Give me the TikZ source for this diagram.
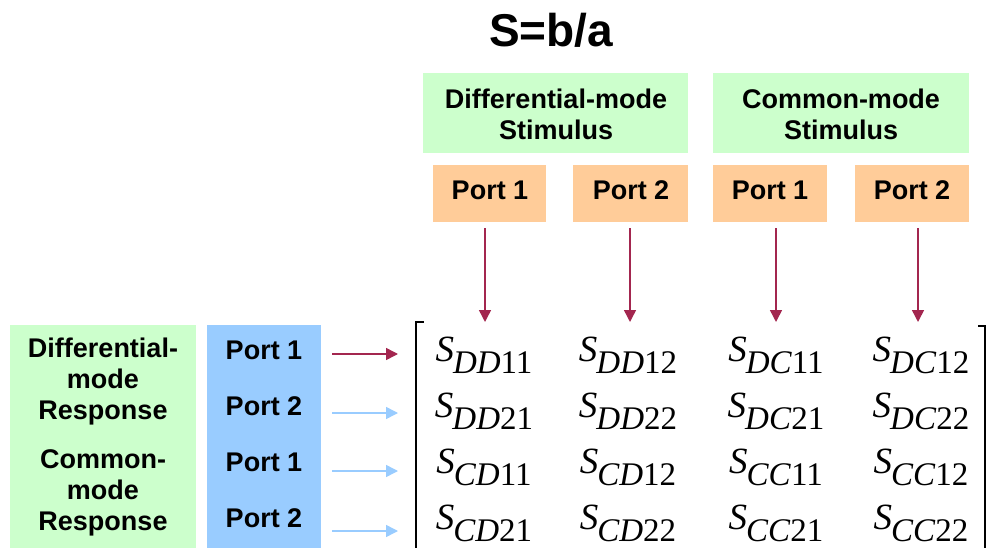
\documentclass[tikz,border=0pt]{standalone}
\usepackage{fontspec}
\setmainfont{Liberation Sans}
\newfontfamily\timesfont{Liberation Serif}
\usetikzlibrary{arrows.meta}

\definecolor{boxgreen}{HTML}{CCFFCC}
\definecolor{boxorange}{HTML}{FFCC99}
\definecolor{boxblue}{HTML}{99CCFF}
\definecolor{arrowred}{HTML}{A3264F}
\definecolor{arrowblue}{HTML}{99CCFF}

% one matrix entry S_{xy ij}
\newcommand{\sentry}[2]{{\timesfont\fontsize{37}{37}\selectfont\textit{S}\kern-1pt\raisebox{-12pt}{\fontsize{33}{33}\selectfont\textit{#1}#2}}}

\begin{document}
\begin{tikzpicture}[x=1pt,y=-1pt,
    lbl/.style={font=\bfseries\fontsize{27}{31}\selectfont, align=center},
    stim/.style={-{Triangle[width=12pt,length=12pt]}, arrowred, line width=1.5pt},
    resp/.style={-{Triangle[width=12pt,length=12pt]}, line width=1.5pt}]

    \useasboundingbox (0,0) rectangle (995,548);

    % Title
    \node[font=\bfseries\fontsize{46}{46}\selectfont] (title) at (551,30) {S=b/a};

    % Stimulus headers
    \fill[boxgreen] (423,73) rectangle (688,153);
    \fill[boxgreen] (713,73) rectangle (969,153);
    \node[lbl] (dstim) at (556,114) {Differential-mode\\Stimulus};
    \node[lbl] (cstim) at (841,114) {Common-mode\\Stimulus};

    % Stimulus ports
    \fill[boxorange] (433,165) rectangle (546,222);
    \fill[boxorange] (573,165) rectangle (688,222);
    \fill[boxorange] (713,165) rectangle (827,222);
    \fill[boxorange] (855,165) rectangle (969,222);
    \node[lbl] (sp1) at (490,190) {Port 1};
    \node[lbl] (sp2) at (631,190) {Port 2};
    \node[lbl] (sp3) at (770,190) {Port 1};
    \node[lbl] (sp4) at (912,190) {Port 2};

    % Response side
    \fill[boxgreen] (10,325) rectangle (196,548);
    \fill[boxblue] (207,325) rectangle (321,548);
    \node[lbl] (dresp) at (103,382) {Differential-\\mode\\Response};
    \node[lbl] (cresp) at (103,493) {Common-\\mode\\Response};
    \node[lbl] (rp1) at (264,350) {Port 1};
    \node[lbl] (rp2) at (264,406) {Port 2};
    \node[lbl] (rp3) at (264,462) {Port 1};
    \node[lbl] (rp4) at (264,518) {Port 2};

    % Matrix entries
    \node (m11) at (484,355) {\sentry{DD}{11}};
    \node (m12) at (628,355) {\sentry{DD}{12}};
    \node (m13) at (776,355) {\sentry{DC}{11}};
    \node (m14) at (921,355) {\sentry{DC}{12}};
    \node (m21) at (484,411) {\sentry{DD}{21}};
    \node (m22) at (628,411) {\sentry{DD}{22}};
    \node (m23) at (776,411) {\sentry{DC}{21}};
    \node (m24) at (921,411) {\sentry{DC}{22}};
    \node (m31) at (484,467) {\sentry{CD}{11}};
    \node (m32) at (628,467) {\sentry{CD}{12}};
    \node (m33) at (776,467) {\sentry{CC}{11}};
    \node (m34) at (921,467) {\sentry{CC}{12}};
    \node (m41) at (484,523) {\sentry{CD}{21}};
    \node (m42) at (628,523) {\sentry{CD}{22}};
    \node (m43) at (776,523) {\sentry{CC}{21}};
    \node (m44) at (921,523) {\sentry{CC}{22}};

    % Brackets
    \draw[line width=1.2pt] (416,548) -- (416,322) -- (424,322);
    \draw[line width=1.2pt] (978,326) -- (985,326) -- (985,548);

    % Stimulus arrows
    \draw[stim] (485,228) -- (485,322);
    \draw[stim] (630,228) -- (630,322);
    \draw[stim] (776,228) -- (776,322);
    \draw[stim] (918,228) -- (918,322);

    % Response arrows
    \draw[resp, arrowred] (332,354) -- (398,354);
    \draw[resp, arrowblue] (332,413) -- (398,413);
    \draw[resp, arrowblue] (332,471) -- (398,471);
    \draw[resp, arrowblue] (332,531) -- (398,531);

\end{tikzpicture}
\end{document}
